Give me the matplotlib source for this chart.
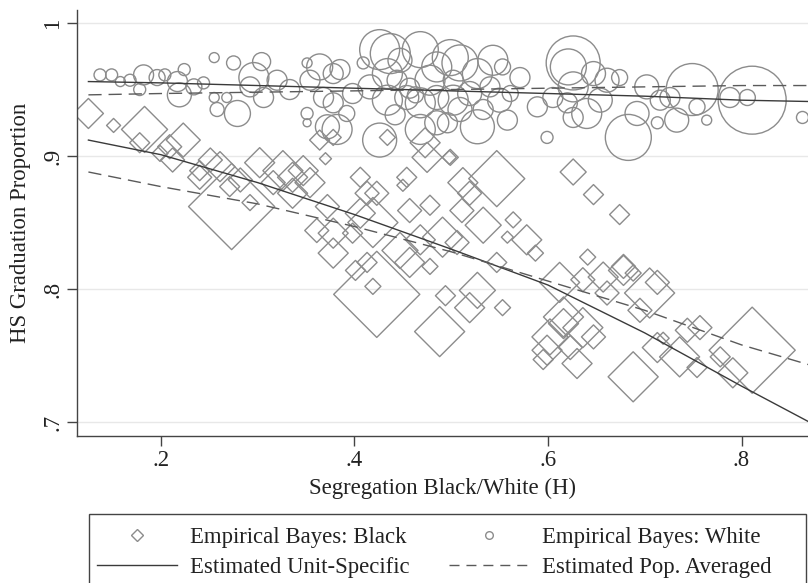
import matplotlib
matplotlib.use("Agg")
import matplotlib.pyplot as plt
from matplotlib.lines import Line2D
from matplotlib.patches import Rectangle
import numpy as np

plt.rcParams['font.family'] = ['Liberation Serif', 'DejaVu Serif']

# ---- Empirical Bayes: Black (segregation H, graduation proportion, marker size) ----
black_x = [0.125, 0.151, 0.183, 0.223, 0.199, 0.212, 0.240, 0.261, 0.282, 0.302,
           0.326, 0.336, 0.354, 0.364, 0.378, 0.370, 0.406, 0.413, 0.406, 0.361,
           0.378, 0.398, 0.378, 0.413, 0.419, 0.434, 0.273, 0.251, 0.292, 0.271,
           0.316, 0.336, 0.372, 0.178, 0.209, 0.347, 0.240, 0.423, 0.488, 0.494,
           0.454, 0.450, 0.423, 0.419, 0.475, 0.499, 0.547, 0.512, 0.519, 0.511,
           0.533, 0.564, 0.558, 0.578, 0.587, 0.547, 0.491, 0.506, 0.478, 0.527,
           0.519, 0.553, 0.595, 0.602, 0.616, 0.473, 0.498, 0.626, 0.647, 0.674,
           0.641, 0.678, 0.447, 0.457, 0.468, 0.401, 0.457, 0.478, 0.612, 0.636,
           0.657, 0.678, 0.688, 0.705, 0.713, 0.695, 0.661, 0.616, 0.636, 0.647,
           0.599, 0.688, 0.630, 0.623, 0.713, 0.719, 0.744, 0.757, 0.736, 0.754,
           0.791, 0.811, 0.778]
black_y = [0.932, 0.923, 0.920, 0.912, 0.902, 0.897, 0.889, 0.892, 0.882, 0.895,
           0.889, 0.884, 0.880, 0.912, 0.914, 0.898, 0.884, 0.872, 0.857, 0.844,
           0.842, 0.842, 0.827, 0.820, 0.802, 0.914, 0.862, 0.897, 0.865, 0.877,
           0.880, 0.872, 0.862, 0.910, 0.907, 0.889, 0.884, 0.796, 0.768, 0.795,
           0.884, 0.878, 0.872, 0.850, 0.899, 0.899, 0.883, 0.880, 0.872, 0.859,
           0.848, 0.852, 0.839, 0.837, 0.827, 0.820, 0.839, 0.835, 0.817, 0.799,
           0.786, 0.786, 0.747, 0.764, 0.774, 0.910, 0.899, 0.888, 0.871, 0.856,
           0.824, 0.817, 0.829, 0.820, 0.837, 0.814, 0.859, 0.863, 0.805, 0.807,
           0.809, 0.814, 0.812, 0.797, 0.805, 0.784, 0.797, 0.779, 0.771, 0.764,
           0.754, 0.734, 0.744, 0.756, 0.756, 0.763, 0.769, 0.771, 0.749, 0.741,
           0.737, 0.754, 0.749]
black_size = [15, 7, 23, 17, 8, 12, 10, 15, 12, 15,
              20, 15, 15, 10, 8, 6, 10, 12, 15, 12,
              15, 10, 15, 10, 8, 8, 43, 12, 8, 10,
              12, 15, 12, 10, 12, 15, 12, 43, 25, 10,
              10, 6, 12, 25, 15, 8, 28, 15, 12, 12,
              18, 8, 6, 15, 8, 10, 20, 12, 8, 18,
              15, 8, 10, 18, 15, 15, 7, 13, 10, 10,
              8, 12, 18, 15, 15, 10, 12, 10, 20, 12,
              15, 15, 8, 25, 12, 12, 12, 20, 20, 12,
              15, 25, 15, 12, 15, 6, 12, 12, 20, 10,
              15, 43, 10]

# ---- Empirical Bayes: White ----
white_x = [0.149, 0.158, 0.168, 0.182, 0.196, 0.204, 0.217, 0.224, 0.219, 0.234,
           0.244, 0.255, 0.275, 0.304, 0.296, 0.279, 0.258, 0.255, 0.268, 0.292,
           0.306, 0.320, 0.333, 0.351, 0.354, 0.351, 0.351, 0.368, 0.364, 0.378,
           0.426, 0.434, 0.426, 0.372, 0.382, 0.385, 0.409, 0.437, 0.468, 0.485,
           0.509, 0.527, 0.543, 0.553, 0.571, 0.398, 0.416, 0.434, 0.454, 0.468,
           0.485, 0.502, 0.519, 0.533, 0.378, 0.392, 0.468, 0.496, 0.527, 0.558,
           0.599, 0.589, 0.605, 0.626, 0.621, 0.620, 0.444, 0.502, 0.540, 0.626,
           0.647, 0.661, 0.674, 0.640, 0.626, 0.683, 0.692, 0.702, 0.716, 0.713,
           0.733, 0.749, 0.754, 0.764, 0.788, 0.806, 0.811, 0.863, 0.726, 0.654,
           0.499, 0.485, 0.447, 0.478, 0.457, 0.509, 0.550, 0.561, 0.442, 0.463,
           0.137, 0.178]
white_y = [0.961, 0.956, 0.957, 0.961, 0.959, 0.961, 0.956, 0.965, 0.946, 0.952,
           0.955, 0.974, 0.970, 0.971, 0.959, 0.932, 0.935, 0.944, 0.944, 0.952,
           0.944, 0.957, 0.950, 0.970, 0.957, 0.932, 0.925, 0.944, 0.967, 0.962,
           0.980, 0.962, 0.912, 0.922, 0.920, 0.965, 0.970, 0.977, 0.980, 0.967,
           0.970, 0.962, 0.972, 0.967, 0.959, 0.947, 0.952, 0.942, 0.944, 0.940,
           0.944, 0.942, 0.947, 0.935, 0.940, 0.932, 0.920, 0.925, 0.922, 0.927,
           0.914, 0.937, 0.944, 0.970, 0.967, 0.940, 0.957, 0.957, 0.952, 0.952,
           0.962, 0.957, 0.959, 0.932, 0.929, 0.914, 0.932, 0.952, 0.942, 0.925,
           0.927, 0.950, 0.937, 0.927, 0.944, 0.944, 0.942, 0.929, 0.944, 0.942,
           0.974, 0.925, 0.972, 0.957, 0.951, 0.935, 0.942, 0.947, 0.931, 0.946,
           0.961, 0.950]
white_size = [6, 5, 6, 10, 8, 6, 10, 6, 12, 8,
              6, 5, 7, 9, 15, 13, 7, 5, 5, 10,
              10, 10, 10, 5, 10, 6, 4, 10, 13, 10,
              20, 15, 17, 12, 15, 10, 6, 20, 18, 15,
              18, 15, 15, 8, 10, 10, 12, 15, 12, 15,
              12, 15, 12, 10, 10, 8, 15, 10, 17, 10,
              6, 10, 10, 27, 18, 10, 10, 10, 10, 15,
              12, 12, 8, 15, 10, 23, 12, 12, 10, 6,
              12, 26, 8, 5, 10, 8, 34, 6, 10, 12,
              18, 12, 12, 15, 10, 12, 12, 8, 10, 8,
              6, 6]

# ---- Fitted curves ----
fit_x = [0.125, 0.2, 0.3, 0.4, 0.5, 0.6, 0.7, 0.8, 0.87]
black_unit = [0.912, 0.901, 0.880, 0.856, 0.830, 0.803, 0.767, 0.727, 0.700]
black_pop = [0.888, 0.877, 0.864, 0.847, 0.828, 0.806, 0.784, 0.758, 0.743]
white_unit = [0.956, 0.955, 0.953, 0.951, 0.949, 0.947, 0.945, 0.942, 0.941]
white_pop = [0.946, 0.947, 0.948, 0.949, 0.950, 0.951, 0.952, 0.953, 0.953]

x_ticks = [0.2, 0.4, 0.6, 0.8]
x_ticklabels = ['.2', '.4', '.6', '.8']
y_ticks = [0.7, 0.8, 0.9, 1.0]
y_ticklabels = ['.7', '.8', '.9', '1']

mcol = '#8c8c8c'
tcol = '#222222'
fs = 16.4

fig = plt.figure(figsize=(8.08, 5.83), dpi=100)
ax = fig.add_axes([77/808, 1-436/583, (808-77)/808, (436-10)/583])

ax.scatter(white_x, white_y, s=2.07*np.array(white_size)**2, marker='o',
           facecolors='none', edgecolors=mcol, linewidths=1.0, zorder=2)
ax.scatter(black_x, black_y, s=1.04*np.array(black_size)**2, marker='D',
           facecolors='none', edgecolors=mcol, linewidths=1.0, zorder=2)

ax.plot(fit_x, black_unit, color='#3a3a3a', lw=1.0, zorder=3)
ax.plot(fit_x, white_unit, color='#3a3a3a', lw=1.0, zorder=3)
ax.plot(fit_x, black_pop, color='#5a5a5a', lw=1.0, ls=(0, (9.5, 5)), zorder=3)
ax.plot(fit_x, white_pop, color='#5a5a5a', lw=1.0, ls=(0, (9.5, 5)), zorder=3)

ax.set_xlim(0.1132, 0.8687)
ax.set_ylim(0.6895, 1.0098)
ax.set_xticks(x_ticks)
ax.set_xticklabels(x_ticklabels)
ax.set_yticks(y_ticks)
ax.set_yticklabels(y_ticklabels, rotation=90, va='center')
ax.yaxis.grid(True, color='#e8e8e8', lw=1.0, zorder=0)
ax.set_axisbelow(True)
for sp in ['top', 'right']:
    ax.spines[sp].set_visible(False)
for sp in ['left', 'bottom']:
    ax.spines[sp].set_color('#444444')
    ax.spines[sp].set_linewidth(1.0)
ax.tick_params(axis='both', direction='out', length=7, width=1.0, color='#444444',
               labelsize=fs, labelcolor=tcol, pad=3)
ax.set_xlabel('Segregation Black/White (H)', fontsize=fs, color=tcol, labelpad=5)
ax.set_ylabel('HS Graduation Proportion', fontsize=fs, color=tcol, labelpad=8)

handles = [
    Line2D([], [], ls='none', marker='D', markersize=6, markerfacecolor='none',
           markeredgecolor=mcol, markeredgewidth=1.0),
    Line2D([], [], color='#3a3a3a', lw=1.0),
    Line2D([], [], ls='none', marker='o', markersize=5.5, markerfacecolor='none',
           markeredgecolor=mcol, markeredgewidth=1.0),
    Line2D([], [], color='#5a5a5a', lw=1.0, ls=(0, (7.2, 5))),
]
labels = ['Empirical Bayes: Black', 'Estimated Unit-Specific',
          'Empirical Bayes: White', 'Estimated Pop. Averaged']
fig.legend(handles, labels, ncol=2, loc='upper left',
           bbox_to_anchor=(97/808, 1-527/583), frameon=False, fontsize=fs,
           borderpad=0, borderaxespad=0, handlelength=3.5, handletextpad=0.6,
           columnspacing=1.7, labelspacing=0.4, labelcolor=tcol)
fig.patches.append(Rectangle((89/808, -0.02), (806-89)/808, 0.02+1-514/583,
                             transform=fig.transFigure, fill=False,
                             edgecolor='#444444', lw=1.0))

fig.savefig('out.png', dpi=100)
